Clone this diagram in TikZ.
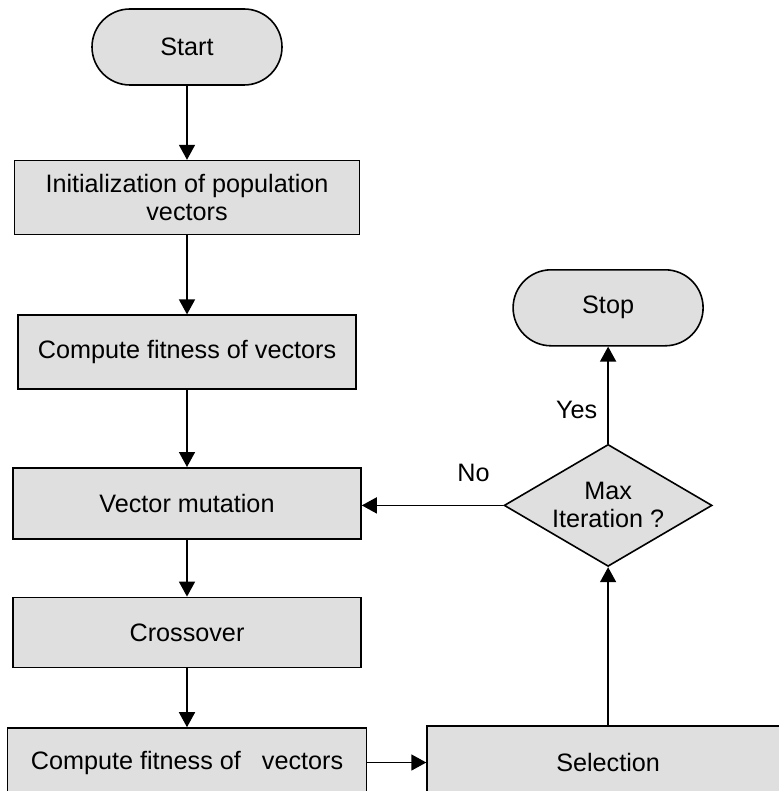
\documentclass[tikz,border=0pt]{standalone}
\usepackage{fontspec}
\setmainfont{Liberation Sans}
\usetikzlibrary{positioning}
\usetikzlibrary{shapes,arrows.meta}
\definecolor{boxgray}{RGB}{223,223,223}

\begin{document}
\begin{tikzpicture}[>={Triangle[width=8pt,length=7.5pt]}, line width=0.8pt,
    font=\fontsize{12.6pt}{14pt}\selectfont,
    termnode/.style={rounded rectangle, draw, fill=boxgray, minimum width=95pt, minimum height=38pt, inner sep=0pt},
    procnode/.style={rectangle, draw, fill=boxgray, align=center, inner sep=0pt, minimum height=36pt},
    decnode/.style={diamond, draw, fill=boxgray, align=center, aspect=1.7, inner sep=-1pt, minimum width=104pt, minimum height=61pt}]
            \useasboundingbox (0,0) rectangle (389.5pt,-395.5pt);
            \node[termnode]   (start)   at (93.5pt,-23.5pt)   {Start};
            \node[procnode, minimum width=172.5pt, minimum height=37pt]   (init)   [below=37pt of start]   {Initialization of population\\vectors};
            \node[procnode, minimum width=169pt, minimum height=37pt]   (fitA)   [below=39.5pt of init]   {Compute fitness of vectors};
            \node[procnode, minimum width=174pt, minimum height=35.5pt]   (mutation)   [below=38.5pt of fitA]   {Vector mutation};
            \node[procnode, minimum width=174pt, minimum height=35pt]   (crossover)   [below=28.5pt of mutation]   {Crossover};
            \node[procnode, minimum width=179.5pt, minimum height=34.5pt]   (fitB)   [below=29.5pt of crossover]   {Compute fitness of \ \ vectors};
            \node[procnode, minimum width=181pt, minimum height=36.5pt]   (selection)   [right=29.5pt of fitB]   {Selection};
            \node[decnode]   (maxiter)   [above=79pt of selection]   {Max\\Iteration ?};
            \node[termnode]   (stop)   [above=48.5pt of maxiter]   {Stop};
            \draw[->] (start) -- (init);
            \draw[->] (init) -- (fitA);
            \draw[->] (fitA) -- (mutation);
            \draw[->] (mutation) -- (crossover);
            \draw[->] (crossover) -- (fitB);
            \draw[->] (fitB) -- (selection);
            \draw[->] (selection) -- (maxiter);
            \draw[->] (maxiter.north) -- node[pos=0.35, left=1.7pt] (yes) {Yes} (stop.south);
            \draw[->] (maxiter.west) -- node[pos=0.21, above=8pt] (no) {No} (maxiter.west -| mutation.east);
        \end{tikzpicture}
\end{document}
